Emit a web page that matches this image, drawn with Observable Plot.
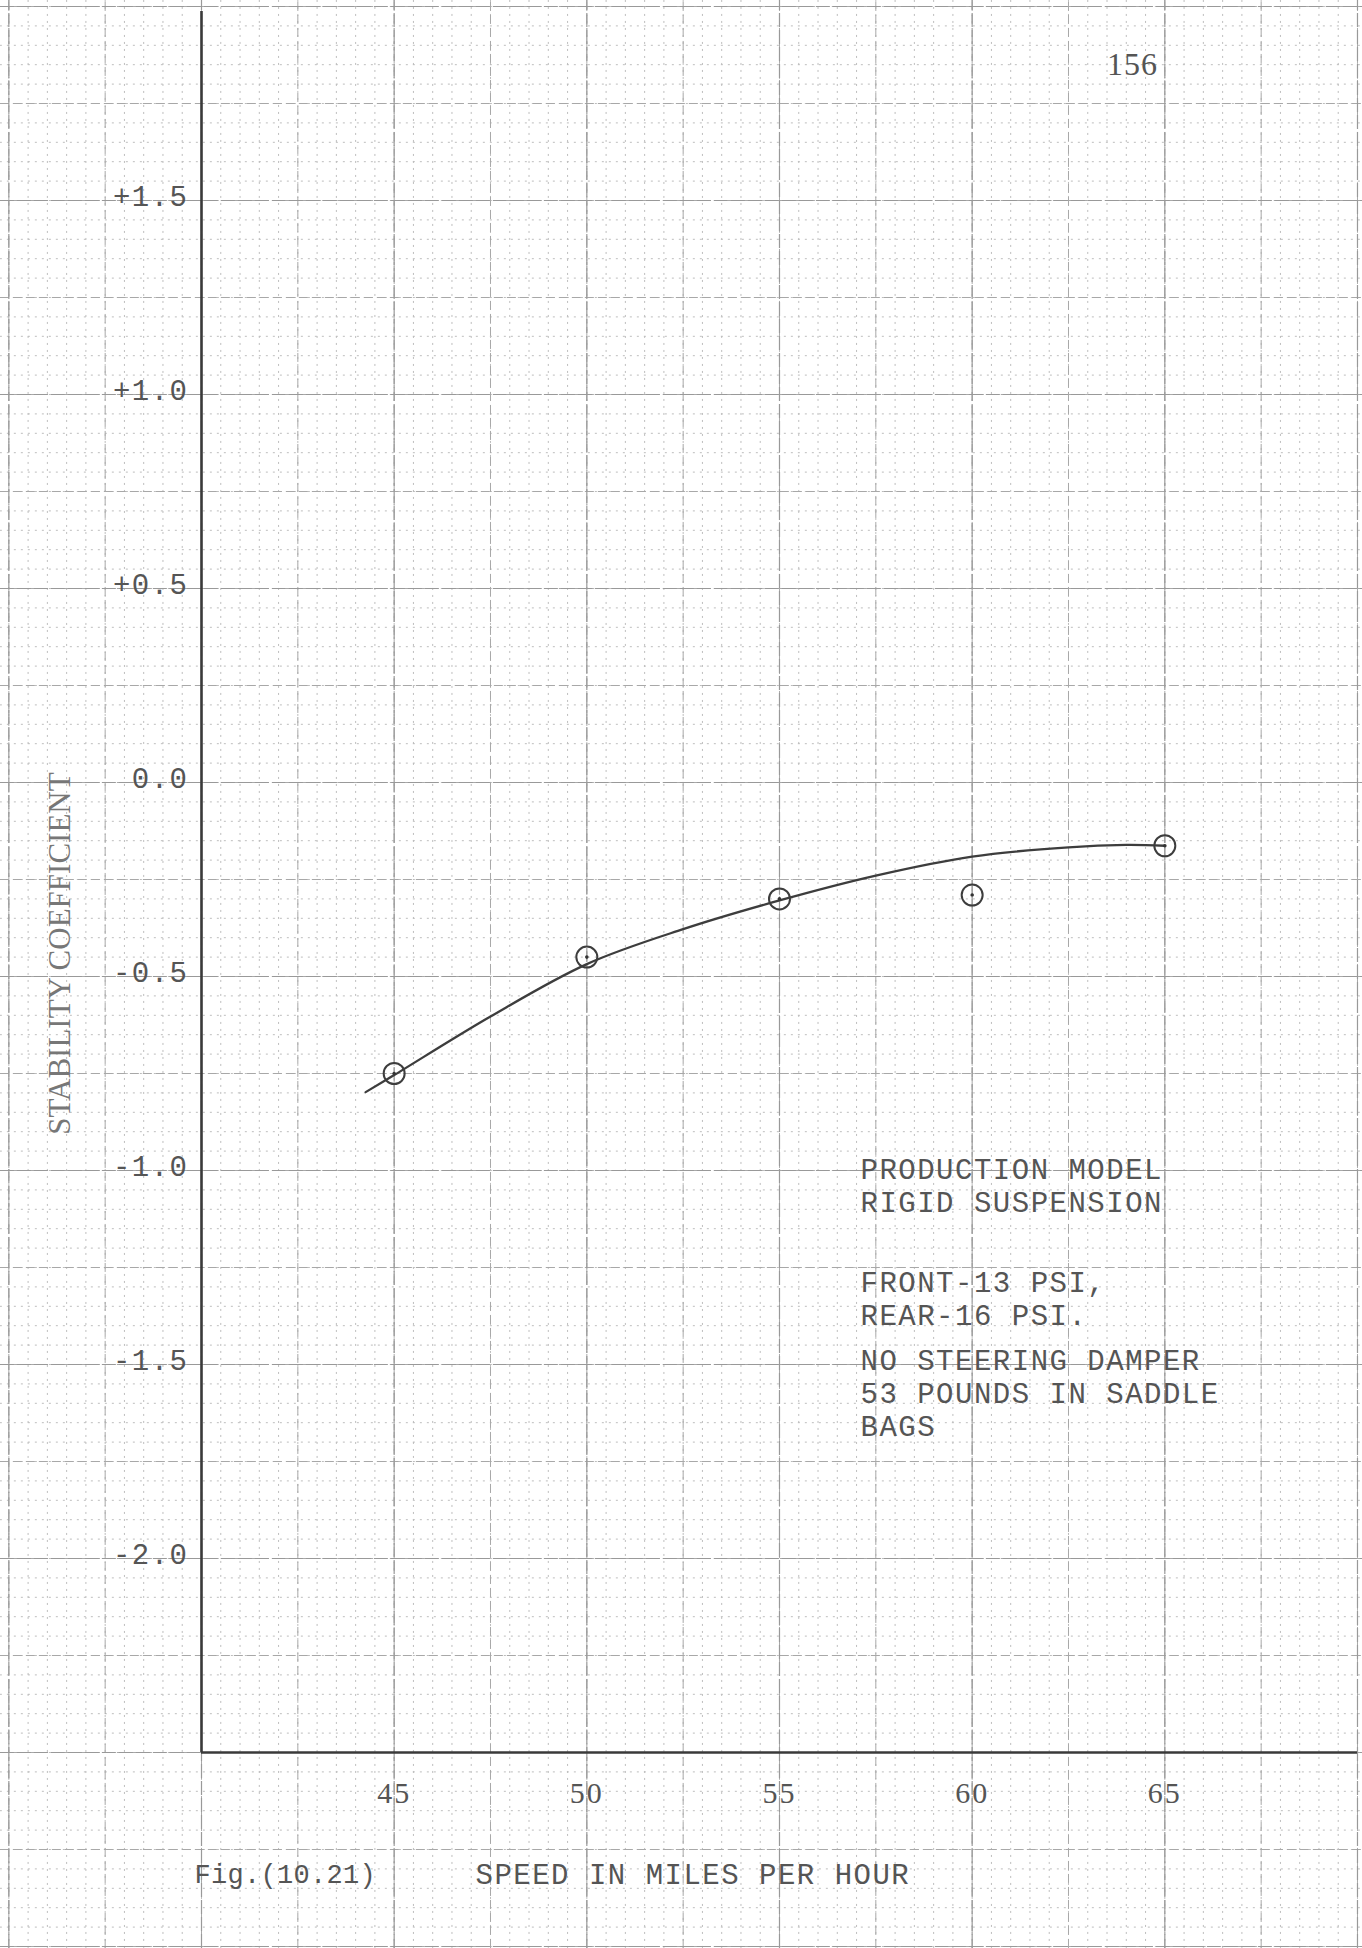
<!DOCTYPE html>
<html>
<head>
<meta charset="utf-8">
<script src="https://cdn.jsdelivr.net/npm/d3@7"></script>
<script src="https://cdn.jsdelivr.net/npm/@observablehq/plot@0.6"></script>
<style>
  html, body { margin: 0; padding: 0; background: #fff; }
  #chart svg { display: block; }
</style>
</head>
<body>
<div id="chart"></div>
<script>
// ---- data ----
const speeds = [45, 50, 55, 60, 65];                       // measured speeds (mph)
const coefficients = [-0.75, -0.45, -0.30, -0.29, -0.163];  // measured stability coefficient

const curveSpeeds = [44.26, 45, 47.5, 50, 52.5, 55, 57.5, 60, 62.5, 64, 65];
const curveValues = [-0.798, -0.754, -0.603, -0.468, -0.378, -0.304, -0.240, -0.191, -0.167, -0.161, -0.163];

const xTicks = [45, 50, 55, 60, 65];
const xTickLabels = ["45", "50", "55", "60", "65"];
const yTicks = [1.5, 1.0, 0.5, 0, -0.5, -1.0, -1.5, -2.0];
const yTickLabels = ["+1.5", "+1.0", "+0.5", "0.0", "-0.5", "-1.0", "-1.5", "-2.0"];

const yTitle = "STABILITY COEFFICIENT";
const xTitle = "SPEED IN MILES PER HOUR";
const figLabel = "Fig.(10.21)";
const pageNumber = "156";
const annotationBlocks = [
  "PRODUCTION MODEL\nRIGID SUSPENSION",
  "FRONT-13 PSI,\nREAR-16 PSI.",
  "NO STEERING DAMPER\n53 POUNDS IN SADDLE\nBAGS"
];

// ---- derived tables ----
const points = speeds.map((s, i) => ({speed: s, value: coefficients[i]}));
const curve = curveSpeeds.map((s, i) => ({speed: s, value: curveValues[i]}));

// graph-paper extent (whole sheet, in data units)
const xMin = 40, xMax = 70.13, yMin = -2.5, yMax = 2.0;
const paperLeft = 34.78, paperRight = 70.13, paperTop = 2.0155, paperBottom = -3.005;
const xMinor = d3.range(70, 141).map(i => i * 0.5);
const xMid = d3.range(14, 29).map(i => i * 2.5);
const xMajor = d3.range(7, 15).map(i => i * 5);
const yMinor = d3.range(-60, 41).map(i => i * 0.05);
const yMid = d3.range(-12, 9).map(i => i * 0.25);
const yMajor = d3.range(-6, 5).map(i => i * 0.5);

const hRule = (ticks, opts) => Plot.ruleY(ticks, {x1: () => paperLeft, x2: () => paperRight, ...opts});
const vRule = (ticks, opts) => Plot.ruleX(ticks, {y1: () => paperBottom, y2: () => paperTop, ...opts});

const typeFont = "'Liberation Mono', 'Courier New', monospace";
const serifFont = "'Liberation Serif', 'Times New Roman', serif";

const chart = Plot.plot({
  width: 1362,
  height: 1948,
  marginLeft: 201,
  marginRight: 0,
  marginTop: 6,
  marginBottom: 196,
  x: {domain: [xMin, xMax]},
  y: {domain: [yMin, yMax]},
  style: {fontFamily: typeFont, fontSize: "29px", color: "#555", background: "#fff", overflow: "visible"},
  marks: [
    // graph paper
    vRule(xMinor, {stroke: "#bdbdbd", strokeWidth: 1, strokeDasharray: "2,5"}),
    hRule(yMinor, {stroke: "#bdbdbd", strokeWidth: 1, strokeDasharray: "2,5"}),
    vRule(xMid, {stroke: "#a8a8a8", strokeWidth: 1, strokeDasharray: "9,4"}),
    hRule(yMid, {stroke: "#a8a8a8", strokeWidth: 1, strokeDasharray: "9,4"}),
    vRule(xMajor, {stroke: "#999", strokeWidth: 1.2, strokeDasharray: "14,3"}),
    hRule(yMajor, {stroke: "#999", strokeWidth: 1.2, strokeDasharray: "14,3"}),
    // axes lines
    Plot.ruleX([xMin], {y1: () => yMin, y2: () => 1.987, stroke: "#3a3a3a", strokeWidth: 2.6}),
    Plot.ruleY([yMin], {x1: () => xMin, x2: () => 70.0, stroke: "#3a3a3a", strokeWidth: 2.6}),
    // axes labels
    Plot.axisY(yTicks, {anchor: "left", label: null, tickSize: 0, tickPadding: 13, dy: -4,
      tickFormat: d => yTickLabels[yTicks.indexOf(d)], fontSize: 29, fill: "#555"}),
    Plot.axisX(xTicks, {anchor: "bottom", label: null, tickSize: 0, tickPadding: 29,
      tickFormat: d => xTickLabels[xTicks.indexOf(d)], fontSize: 30,
      fontFamily: serifFont, fill: "#555"}),
    // fitted curve and measured points
    Plot.line(curve, {x: "speed", y: "value", curve: "catmull-rom", stroke: "#3d3d3d", strokeWidth: 2.3}),
    Plot.dot(points, {x: "speed", y: "value", r: 10.5, stroke: "#3d3d3d", strokeWidth: 2, fill: "none"}),
    Plot.dot(points, {x: "speed", y: "value", r: 1.8, fill: "#333", stroke: "none"}),
    // titles
    Plot.text([yTitle], {text: d => d, frameAnchor: "left", rotate: -90, dx: -141, dy: 74,
      textAnchor: "middle", lineAnchor: "middle", fontFamily: serifFont,
      fontSize: 31, fill: "#777"}),
    Plot.text([xTitle], {text: d => d, frameAnchor: "bottom-left", dx: 274, dy: 122,
      textAnchor: "start", lineAnchor: "middle", fontSize: 29, fill: "#555"}),
    Plot.text([figLabel], {text: d => d, frameAnchor: "bottom-left", dx: -7, dy: 122,
      textAnchor: "start", lineAnchor: "middle", fontSize: 27, fill: "#555"}),
    Plot.text([pageNumber], {text: d => d, frameAnchor: "top-left", dx: 931, dy: 58,
      textAnchor: "middle", lineAnchor: "middle", fontFamily: serifFont,
      fontSize: 32, fill: "#555"}),
    // annotation
    Plot.text([annotationBlocks[0]], {text: d => d, frameAnchor: "top-left", dx: 659, dy: 1149,
      textAnchor: "start", lineAnchor: "top", lineHeight: 1.14, fontSize: 29, fill: "#555"}),
    Plot.text([annotationBlocks[1]], {text: d => d, frameAnchor: "top-left", dx: 659, dy: 1262,
      textAnchor: "start", lineAnchor: "top", lineHeight: 1.14, fontSize: 29, fill: "#555"}),
    Plot.text([annotationBlocks[2]], {text: d => d, frameAnchor: "top-left", dx: 659, dy: 1340,
      textAnchor: "start", lineAnchor: "top", lineHeight: 1.14, fontSize: 29, fill: "#555"})
  ]
});

document.getElementById("chart").appendChild(chart);

// typewriter letter spacing
d3.select(chart).selectAll("text").each(function() {
  const t = this.textContent;
  let ls = "1.5px";
  if (t === yTitle) ls = "0px";
  else if (t === pageNumber) ls = "1px";
  else if (xTickLabels.includes(t)) ls = "2px";
  else if (t === figLabel) ls = "0.3px";
  this.style.letterSpacing = ls;
});
</script>
</body>
</html>
